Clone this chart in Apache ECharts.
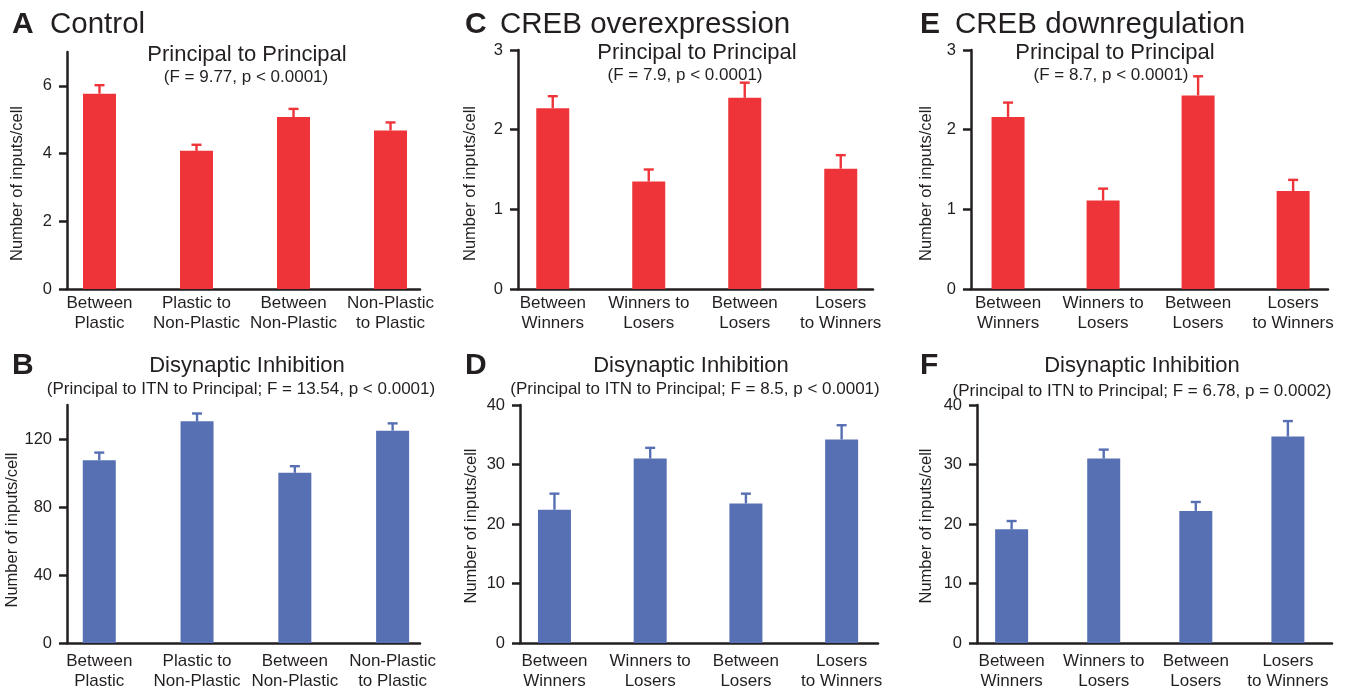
<!DOCTYPE html>
<html>
<head>
<meta charset="utf-8">
<script src="https://cdn.jsdelivr.net/npm/echarts@6/dist/echarts.min.js"></script>
<style>
html,body{margin:0;padding:0;background:#fff;}
#chart{width:1345px;height:692px;}
</style>
</head>
<body>
<div id="chart"></div>
<script>
// ---------- data ----------
const catsPlastic = ['Between\nPlastic', 'Plastic to\nNon-Plastic', 'Between\nNon-Plastic', 'Non-Plastic\nto Plastic'];
const catsWinners = ['Between\nWinners', 'Winners to\nLosers', 'Between\nLosers', 'Losers\nto Winners'];

const meanA = [5.77, 4.08, 5.08, 4.68];
const semA  = [0.25, 0.18, 0.24, 0.24];
const meanB = [107.5, 130.4, 100.1, 124.9];
const semB  = [4.5, 4.6, 3.9, 4.3];
const meanC = [2.27, 1.35, 2.40, 1.51];
const semC  = [0.15, 0.15, 0.19, 0.17];
const meanD = [22.4, 31.0, 23.45, 34.2];
const semD  = [2.7, 1.8, 1.65, 2.4];
const meanE = [2.16, 1.11, 2.43, 1.23];
const semE  = [0.18, 0.15, 0.24, 0.14];
const meanF = [19.1, 31.0, 22.2, 34.7];
const semF  = [1.4, 1.5, 1.5, 2.6];

const ticksA = [0, 2, 4, 6];
const ticksB = [0, 40, 80, 120];
const ticksC = [0, 1, 2, 3];
const ticksD = [0, 10, 20, 30, 40];

// ---------- styles / layout ----------
const RED = '#EE3439';
const BLUE = '#5770B4';
const INK = '#231F20';
const FONT = '"Liberation Sans", Arial, Helvetica, sans-serif';

const panels = [
  {cats: catsPlastic, mean: meanA, sem: semA, ticks: ticksA, ymax: 7,   color: RED,
   grid: {left: 67, top: 52, width: 353, height: 237}, xmin: -0.335, xmax: 3.304, nameGap: 41, namePad: 26, labelMargin: 4},
  {cats: catsPlastic, mean: meanB, sem: semB, ticks: ticksB, ymax: 140, color: BLUE,
   grid: {left: 67, top: 405, width: 353, height: 238}, xmin: -0.33, xmax: 3.28, nameGap: 41, namePad: 12, labelMargin: 8},
  {cats: catsWinners, mean: meanC, sem: semC, ticks: ticksC, ymax: 3,   color: RED,
   grid: {left: 518, top: 50, width: 355, height: 239}, xmin: -0.362, xmax: 3.336, nameGap: 39, namePad: 28, labelMargin: 4},
  {cats: catsWinners, mean: meanD, sem: semD, ticks: ticksD, ymax: 40,  color: BLUE,
   grid: {left: 520, top: 405, width: 358, height: 238}, xmin: -0.36, xmax: 3.38, nameGap: 40, namePad: 4, labelMargin: 8},
  {cats: catsWinners, mean: meanE, sem: semE, ticks: ticksC, ymax: 3,   color: RED,
   grid: {left: 971, top: 50, width: 357, height: 239}, xmin: -0.39, xmax: 3.367, nameGap: 36, namePad: 28, labelMargin: 4},
  {cats: catsWinners, mean: meanF, sem: semF, ticks: ticksD, ymax: 40,  color: BLUE,
   grid: {left: 977, top: 405, width: 355, height: 238}, xmin: -0.376, xmax: 3.479, nameGap: 42, namePad: 4, labelMargin: 8}
];

const axisLineStyle = {color: INK, width: 2.5};

const grids = [], xAxes = [], yAxes = [], series = [];
panels.forEach((p, i) => {
  grids.push(Object.assign({containLabel: false}, p.grid));
  const idx = [0, 1, 2, 3];
  xAxes.push({
    type: 'value', gridIndex: i, min: p.xmin, max: p.xmax,
    splitLine: {show: false},
    axisTick: {show: false},
    axisLine: {show: true, onZero: false, lineStyle: axisLineStyle},
    axisLabel: {
      customValues: idx,
      formatter: v => p.cats[Math.round(v)],
      color: INK, fontFamily: FONT, fontSize: 17, lineHeight: 20,
      margin: p.labelMargin, align: 'center'
    }
  });
  yAxes.push({
    type: 'value', gridIndex: i, min: 0, max: p.ymax,
    splitLine: {show: false},
    axisLine: {show: true, onZero: false, lineStyle: axisLineStyle},
    axisTick: {show: true, customValues: p.ticks, length: 8, lineStyle: {color: INK, width: 2.5}},
    axisLabel: {customValues: p.ticks, color: INK, fontFamily: FONT, fontSize: 16.5, margin: 15},
    name: 'Number of inputs/cell',
    nameLocation: 'middle',
    nameGap: p.nameGap,
    nameTextStyle: {color: INK, fontFamily: FONT, fontSize: 16.5, padding: [0, p.namePad, 0, 0]}
  });
  series.push({
    type: 'bar', xAxisIndex: i, yAxisIndex: i,
    barWidth: 33,
    itemStyle: {color: p.color},
    data: p.mean.map((m, j) => [j, m]),
    z: 2
  });
  series.push({
    type: 'custom', xAxisIndex: i, yAxisIndex: i,
    data: p.mean.map((m, j) => [j, m, m + p.sem[j]]),
    encode: {x: 0, y: [1, 2]},
    z: 3,
    renderItem: (params, api) => {
      const x = api.value(0);
      const b = api.coord([x, api.value(1)]);
      const t = api.coord([x, api.value(2)]);
      const st = {stroke: p.color, lineWidth: 2.4};
      return {
        type: 'group',
        children: [
          {type: 'line', shape: {x1: b[0], y1: b[1], x2: t[0], y2: t[1] }, style: st},
          {type: 'line', shape: {x1: t[0] - 5, y1: t[1], x2: t[0] + 5, y2: t[1]}, style: st}
        ]
      };
    }
  });
});

function txt(text, x, y, size, opts) {
  return {
    type: 'text', x: x, y: y, silent: true,
    style: Object.assign({
      text: text, fill: INK, font: size + 'px ' + FONT,
      align: 'left', verticalAlign: 'middle'
    }, opts || {})
  };
}
const bold = s => ({font: 'bold ' + s + 'px ' + FONT});

const graphics = [
  // panel letters and headers
  txt('A', 12, 25, 30, bold(30)),
  txt('Control', 50, 25, 29.5),
  txt('C', 465, 24.5, 30, bold(30)),
  txt('CREB overexpression', 500, 24.5, 29.5),
  txt('E', 920, 24.5, 30, bold(30)),
  txt('CREB downregulation', 955, 24.5, 29.5),
  txt('B', 12, 366, 30, bold(30)),
  txt('D', 465, 366, 30, bold(30)),
  txt('F', 920, 366, 30, bold(30)),
  // subplot titles
  txt('Principal to Principal', 247, 55, 22, {align: 'center'}),
  txt('(F = 9.77, p < 0.0001)', 246, 77, 17, {align: 'center'}),
  txt('Principal to Principal', 697, 52.5, 22, {align: 'center'}),
  txt('(F = 7.9, p < 0.0001)', 685, 75, 17, {align: 'center'}),
  txt('Principal to Principal', 1115, 52.5, 22, {align: 'center'}),
  txt('(F = 8.7, p < 0.0001)', 1111, 75, 17, {align: 'center'}),
  txt('Disynaptic Inhibition', 247, 365.5, 22, {align: 'center'}),
  txt('(Principal to ITN to Principal; F = 13.54, p < 0.0001)', 241, 389, 17, {align: 'center'}),
  txt('Disynaptic Inhibition', 691, 365.5, 22, {align: 'center'}),
  txt('(Principal to ITN to Principal; F = 8.5, p < 0.0001)', 695, 389, 17, {align: 'center'}),
  txt('Disynaptic Inhibition', 1142, 365.5, 22, {align: 'center'}),
  txt('(Principal to ITN to Principal; F = 6.78, p = 0.0002)', 1142, 391, 17, {align: 'center'})
];

const chart = echarts.init(document.getElementById('chart'), null, {renderer: 'canvas'});
chart.setOption({
  animation: false,
  backgroundColor: '#fff',
  textStyle: {fontFamily: FONT},
  grid: grids,
  xAxis: xAxes,
  yAxis: yAxes,
  series: series,
  graphic: graphics
});
</script>
</body>
</html>
